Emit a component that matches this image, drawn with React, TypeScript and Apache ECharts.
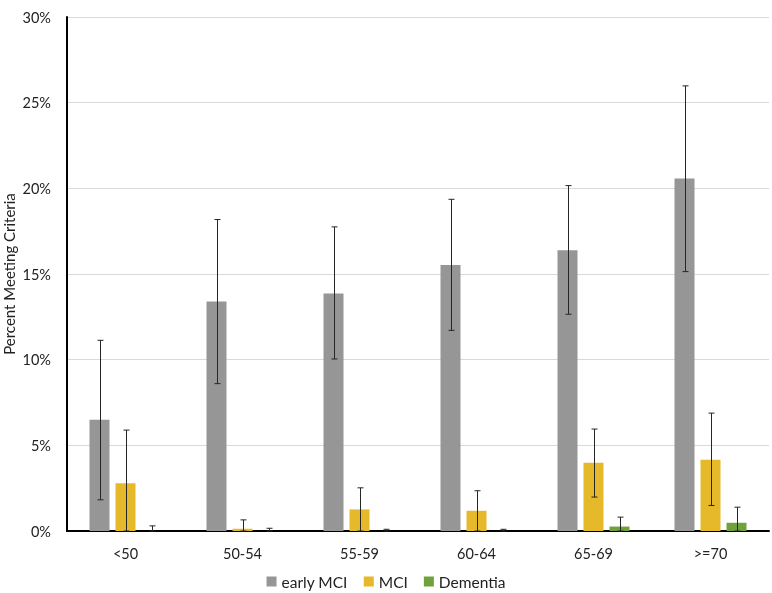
import React, { useEffect, useRef } from "react";
import * as echarts from "echarts";

const categories = ["<50", "50-54", "55-59", "60-64", "65-69", ">=70"];
const seriesNames = ["early MCI", "MCI", "Dementia"];
const earlyMCI = [6.5, 13.4, 13.86, 15.53, 16.39, 20.57];
const earlyMCILow = [1.82, 8.6, 10.04, 11.71, 12.65, 15.14];
const earlyMCIHigh = [11.13, 18.18, 17.75, 19.36, 20.16, 25.98];
const mci = [2.79, 0.13, 1.26, 1.18, 3.98, 4.16];
const mciLow = [0, 0, 0, 0, 1.98, 1.49];
const mciHigh = [5.89, 0.65, 2.52, 2.35, 5.95, 6.88];
const dementia = [0, 0, 0, 0, 0.26, 0.48];
const dementiaLow = [0, 0, 0, 0, 0, 0];
const dementiaHigh = [0.3, 0.16, 0.1, 0.1, 0.81, 1.39];
const yTicks = [0, 5, 10, 15, 20, 25, 30];

const colors = ["#969696", "#E5B92A", "#70A13C"];
const FONT = "Lato";

const BAR_W = 20;
const SPACING = 26;

function errorSeries(idx: number, low: number[], high: number[]) {
  const offset = (idx - 1) * SPACING;
  return {
    type: "custom",
    name: seriesNames[idx] + " error",
    z: 10,
    silent: true,
    encode: { x: 0, y: [1, 2] },
    data: categories.map((_, i) => [i, low[i], high[i]]),
    renderItem: (params: any, api: any) => {
      const ci = api.value(0);
      const lo = api.coord([ci, api.value(1)]);
      const hi = api.coord([ci, api.value(2)]);
      const x = Math.round(lo[0] + offset) + 0.5;
      const cap = 3;
      const style = { stroke: "#262626", lineWidth: 1 };
      return {
        type: "group",
        children: [
          { type: "line", shape: { x1: x, y1: lo[1], x2: x, y2: hi[1] }, style },
          { type: "line", shape: { x1: x - cap, y1: hi[1], x2: x + cap, y2: hi[1] }, style },
          { type: "line", shape: { x1: x - cap, y1: lo[1], x2: x + cap, y2: lo[1] }, style },
        ],
      };
    },
  };
}

export default function App() {
  const ref = useRef<HTMLDivElement>(null);
  useEffect(() => {
    if (!ref.current) return;
    const chart = echarts.init(ref.current, undefined, { renderer: "svg" });
    const values = [earlyMCI, mci, dementia];
    chart.setOption({
      animation: false,
      color: colors,
      textStyle: { fontFamily: FONT },
      grid: {
        left: 67,
        right: 3,
        top: 17,
        bottom: 62,
        containLabel: false,
        outerBoundsMode: "none",
      },
      legend: {
        top: 572,
        left: "center",
        itemWidth: 10,
        itemHeight: 10,
        itemGap: 16,
        icon: "rect",
        padding: 0,
        data: seriesNames,
        textStyle: { fontFamily: FONT, fontSize: 15.5, color: "#222", lineHeight: 19 },
      },
      xAxis: {
        type: "category",
        data: categories,
        axisLine: { lineStyle: { color: "#000", width: 2 } },
        axisTick: { show: false },
        axisLabel: { fontFamily: FONT, fontSize: 14.5, color: "#222", margin: 15 },
      },
      yAxis: {
        type: "value",
        min: 0,
        max: 30,
        interval: 5,
        name: "Percent Meeting Criteria",
        nameLocation: "middle",
        nameGap: 51,
        nameMoveOverlap: false,
        nameTextStyle: { fontFamily: FONT, fontSize: 15, color: "#222" },
        axisLine: { show: true, lineStyle: { color: "#000", width: 2 } },
        axisTick: { show: false },
        axisLabel: {
          fontFamily: FONT,
          fontSize: 14.5,
          color: "#222",
          margin: 16,
          formatter: (v: number) => (yTicks.includes(v) ? v + "%" : ""),
        },
        splitLine: { lineStyle: { color: "#D9D9D9", width: 1 } },
      },
      series: [
        ...values.map((d, i) => ({
          type: "bar",
          name: seriesNames[i],
          data: d,
          barWidth: BAR_W,
          barGap: "30%",
          itemStyle: { color: colors[i] },
        })),
        errorSeries(0, earlyMCILow, earlyMCIHigh),
        errorSeries(1, mciLow, mciHigh),
        errorSeries(2, dementiaLow, dementiaHigh),
      ],
    });
    return () => chart.dispose();
  }, []);
  return (
    <div
      ref={ref}
      style={{ position: "fixed", left: 0, top: 0, width: 772, height: 593 }}
    />
  );
}
